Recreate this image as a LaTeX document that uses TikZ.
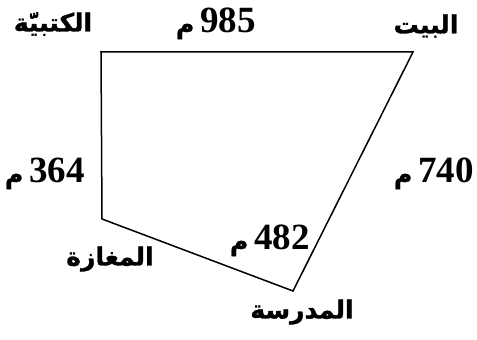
\documentclass[tikz,border=0pt]{standalone}
\usepackage{fontspec}
\setmainfont{Liberation Serif}
\newfontfamily\arabicfont[Script=Arabic, BoldFeatures={FakeBold=1.2}]{DejaVu Sans}
\TeXXeTstate=1
\usetikzlibrary{positioning}

\tikzset{
  place/.style={font=\arabicfont\bfseries\fontsize{25}{27}\selectfont, inner sep=0pt},
  dist/.style={font=\bfseries\fontsize{37}{40}\selectfont, inner sep=0pt, anchor=base},
  road/.style={line width=1.5pt}
}
\newcommand{\metre}[1]{{\arabicfont\bfseries\fontsize{25}{27}\selectfont\beginR م\endR}\,#1}

\begin{document}
\begin{tikzpicture}[x=1pt,y=1pt]
  \useasboundingbox (0,0) rectangle (477,340);

  % Corners
  \coordinate (kutubiya) at (101,288);
  \coordinate (bayt) at (413,288);
  \coordinate (madrasa) at (293,49);
  \coordinate (maghaza) at (102,121);

  % Roads
  \draw[road, line join=miter] (kutubiya) -- (bayt) -- (madrasa) -- (maghaza) -- cycle;

  % Places
  \node[place] (kutubiyaLbl) at (53,316) {\beginR الكتبيّة\endR};
  \node[place] (baytLbl) at (426,314) {\beginR البيت\endR};
  \node[place] (madrasaLbl) at (302,28) {\beginR المدرسة\endR};
  \node[place] (maghazaLbl) at (110,81) {\beginR المغازة\endR};

  % Distances
  \node[dist] (top) at (216,307) {\metre{985}};
  \node[dist] (left) at (45,157) {\metre{364}};
  \node[dist] (right) at (434,157) {\metre{740}};
  \node[dist] (bottom) at (270,90) {\metre{482}};
\end{tikzpicture}
\end{document}
